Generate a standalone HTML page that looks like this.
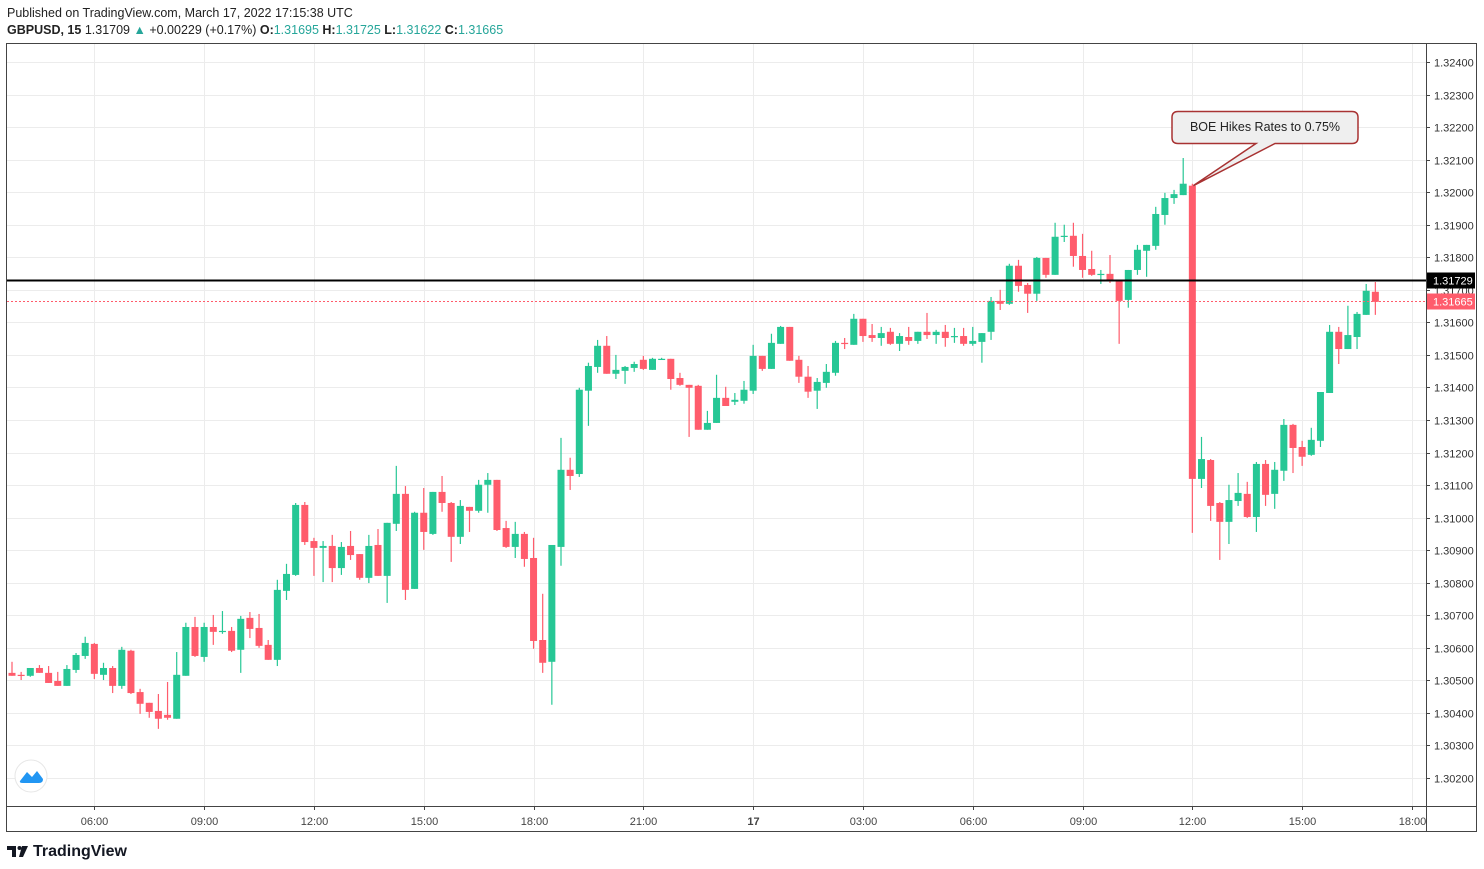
<!DOCTYPE html>
<html><head><meta charset="utf-8"><style>
body{margin:0;background:#fff;width:1484px;height:869px;overflow:hidden;font-family:"Liberation Sans",sans-serif}
svg{position:absolute;left:0;top:0}
</style></head><body>
<svg id="c" width="1484" height="869">
<text x="7" y="17" font-size="12.5" fill="#222">Published on TradingView.com, March 17, 2022 17:15:38 UTC</text>
<text x="7" y="34" font-size="12.5" fill="#222"><tspan font-weight="bold">GBPUSD, 15</tspan> 1.31709 <tspan fill="#26a69a">▲</tspan> +0.00229 (+0.17%) <tspan font-weight="bold">O:</tspan><tspan fill="#26a69a">1.31695</tspan> <tspan font-weight="bold">H:</tspan><tspan fill="#26a69a">1.31725</tspan> <tspan font-weight="bold">L:</tspan><tspan fill="#26a69a">1.31622</tspan> <tspan font-weight="bold">C:</tspan><tspan fill="#26a69a">1.31665</tspan></text>
<g id="grid"></g>
<g id="candles"></g>
<g id="overlay"></g>
<rect x="6.5" y="43.5" width="1470" height="788" fill="none" stroke="#444"/>
<line x1="6.5" y1="806.5" x2="1476" y2="806.5" stroke="#444"/>
<line x1="1426.5" y1="44" x2="1426.5" y2="831" stroke="#444"/>
<g><circle cx="31" cy="776" r="16" fill="#fff" stroke="#e6e6e6"/><path d="M20 781 L27 772 L32 777 L37 771 L43 779 Q43 783 39 783 L23 783 Q19 783 20 781Z" fill="#2196f3"/></g>
<g><path d="M7 846h9v11h-4v-7h-5z" fill="#131722"/><circle cx="19.5" cy="848" r="2" fill="#131722"/><path d="M22 846h6l-5 11h-4z" fill="#131722"/><text x="33" y="856" font-size="16" font-weight="bold" fill="#131722">TradingView</text></g>
</svg>
<script>
const opens=[1.30523,1.30517,1.30514,1.30538,1.30523,1.30498,1.30483,1.30532,1.30575,1.30612,1.30517,1.30538,1.30483,1.30591,1.30464,1.30431,1.30406,1.30394,1.30382,1.30514,1.30664,1.30572,1.30664,1.30649,1.30652,1.30594,1.30692,1.30661,1.30609,1.30563,1.30775,1.30824,1.31039,1.30928,1.30907,1.30913,1.30845,1.30913,1.30888,1.30815,1.30916,1.30821,1.30981,1.31073,1.30781,1.31015,1.30950,1.31079,1.31045,1.30941,1.31033,1.31021,1.31101,1.31116,1.30968,1.30910,1.30950,1.30876,1.30624,1.30557,1.30910,1.31147,1.31134,1.31390,1.31463,1.31528,1.31442,1.31451,1.31460,1.31485,1.31454,1.31485,1.31488,1.31429,1.31408,1.31405,1.31270,1.31291,1.31368,1.31356,1.31359,1.31390,1.31497,1.31457,1.31534,1.31586,1.31485,1.31433,1.31390,1.31414,1.31445,1.31537,1.31531,1.31611,1.31561,1.31552,1.31571,1.31534,1.31555,1.31543,1.31571,1.31561,1.31571,1.31555,1.31558,1.31534,1.31540,1.31571,1.31666,1.31657,1.31774,1.31715,1.31688,1.31798,1.31746,1.31863,1.31866,1.31804,1.31764,1.31746,1.31749,1.31730,1.31669,1.31761,1.31820,1.31835,1.31930,1.31982,1.31991,1.32020,1.31119,1.31177,1.31045,1.30987,1.31051,1.31073,1.31002,1.31165,1.31073,1.31144,1.31285,1.31217,1.31193,1.31236,1.31383,1.31571,1.31518,1.31555,1.31623,1.31694];
const highs=[1.30557,1.30526,1.30538,1.30547,1.30544,1.30526,1.30547,1.30584,1.30634,1.30615,1.30554,1.30544,1.30603,1.30594,1.30474,1.30431,1.30458,1.30495,1.30587,1.30677,1.30695,1.30677,1.30701,1.30713,1.30664,1.30698,1.30710,1.30704,1.30624,1.30809,1.30858,1.31045,1.31048,1.30938,1.30928,1.30947,1.30925,1.30959,1.30888,1.30947,1.30965,1.30984,1.31159,1.31097,1.31018,1.31091,1.31079,1.31128,1.31048,1.31054,1.31033,1.31116,1.31137,1.31116,1.30990,1.30987,1.30956,1.30938,1.30766,1.30916,1.31245,1.31184,1.31399,1.31476,1.31546,1.31558,1.31500,1.31466,1.31479,1.31497,1.31491,1.31491,1.31488,1.31445,1.31408,1.31408,1.31328,1.31439,1.31402,1.31383,1.31420,1.31531,1.31497,1.31565,1.31589,1.31586,1.31497,1.31466,1.31429,1.31472,1.31543,1.31552,1.31626,1.31611,1.31595,1.31586,1.31583,1.31567,1.31586,1.31571,1.31629,1.31577,1.31592,1.31583,1.31583,1.31586,1.31567,1.31678,1.31700,1.31780,1.31792,1.31721,1.31801,1.31798,1.31906,1.31900,1.31906,1.31872,1.31820,1.31761,1.31807,1.31730,1.31761,1.31838,1.31838,1.31955,1.31998,1.32007,1.32105,1.32026,1.31248,1.31180,1.31048,1.31101,1.31137,1.31110,1.31171,1.31177,1.31171,1.31303,1.31288,1.31236,1.31276,1.31386,1.31592,1.31586,1.31651,1.31632,1.31718,1.31724];
const lows=[1.30514,1.30501,1.30511,1.30523,1.30492,1.30483,1.30483,1.30523,1.30566,1.30504,1.30501,1.30461,1.30474,1.30458,1.30397,1.30385,1.30351,1.30379,1.30382,1.30514,1.30572,1.30557,1.30609,1.30643,1.30587,1.30523,1.30630,1.30600,1.30563,1.30544,1.30747,1.30821,1.30916,1.30821,1.30802,1.30802,1.30824,1.30870,1.30809,1.30799,1.30821,1.30738,1.30959,1.30747,1.30781,1.30901,1.30947,1.31018,1.30864,1.30919,1.30956,1.31015,1.31015,1.30959,1.30907,1.30876,1.30849,1.30597,1.30523,1.30425,1.30852,1.31085,1.31125,1.31282,1.31445,1.31442,1.31426,1.31411,1.31448,1.31454,1.31454,1.31485,1.31393,1.31405,1.31248,1.31270,1.31270,1.31291,1.31343,1.31346,1.31350,1.31380,1.31451,1.31457,1.31534,1.31482,1.31414,1.31368,1.31334,1.31399,1.31436,1.31518,1.31531,1.31540,1.31540,1.31528,1.31531,1.31512,1.31531,1.31534,1.31549,1.31534,1.31525,1.31537,1.31528,1.31528,1.31476,1.31546,1.31638,1.31654,1.31694,1.31629,1.31666,1.31737,1.31746,1.31847,1.31771,1.31737,1.31743,1.31718,1.31721,1.31534,1.31645,1.31746,1.31740,1.31823,1.31900,1.31964,1.31991,1.30953,1.31091,1.30990,1.30870,1.30919,1.31036,1.30999,1.30956,1.31036,1.31027,1.31113,1.31137,1.31159,1.31190,1.31217,1.31383,1.31472,1.31518,1.31518,1.31623,1.31623];
const closes=[1.30514,1.30514,1.30538,1.30523,1.30492,1.30483,1.30535,1.30578,1.30615,1.30520,1.30538,1.30483,1.30594,1.30461,1.30428,1.30403,1.30382,1.30385,1.30517,1.30664,1.30575,1.30664,1.30649,1.30652,1.30591,1.30689,1.30658,1.30606,1.30563,1.30778,1.30827,1.31039,1.30925,1.30907,1.30913,1.30845,1.30910,1.30885,1.30815,1.30913,1.30821,1.30984,1.31073,1.30778,1.31015,1.30956,1.31079,1.31045,1.30941,1.31036,1.31021,1.31101,1.31116,1.30962,1.30910,1.30950,1.30873,1.30621,1.30554,1.30916,1.31147,1.31128,1.31393,1.31466,1.31528,1.31442,1.31454,1.31463,1.31472,1.31457,1.31488,1.31488,1.31426,1.31408,1.31399,1.31270,1.31291,1.31368,1.31343,1.31362,1.31393,1.31497,1.31457,1.31537,1.31586,1.31482,1.31433,1.31387,1.31417,1.31448,1.31537,1.31534,1.31611,1.31558,1.31552,1.31567,1.31534,1.31558,1.31543,1.31571,1.31561,1.31571,1.31552,1.31558,1.31534,1.31543,1.31567,1.31666,1.31657,1.31774,1.31712,1.31688,1.31798,1.31746,1.31863,1.31866,1.31804,1.31761,1.31746,1.31749,1.31727,1.31666,1.31761,1.31823,1.31838,1.31933,1.31982,1.31994,1.32026,1.31119,1.31180,1.31036,1.30987,1.31054,1.31076,1.31002,1.31165,1.31070,1.31147,1.31285,1.31214,1.31187,1.31239,1.31386,1.31571,1.31518,1.31561,1.31626,1.31697,1.31663];
const priceTicks=[1.324,1.323,1.322,1.321,1.320,1.319,1.318,1.317,1.316,1.315,1.314,1.313,1.312,1.311,1.310,1.309,1.308,1.307,1.306,1.305,1.304,1.303,1.302];
const timeLabels=["06:00","09:00","12:00","15:00","18:00","21:00","17","03:00","06:00","09:00","12:00","15:00","18:00"];
const timeLabelIdx=[9,21,33,45,57,69,81,93,105,117,129,141,153];
const lineLevel=1.31729, lastPrice=1.31665, annotIdx=129;

const NS="http://www.w3.org/2000/svg";
const yS=p=>62+(1.324-p)*32545;
const xS=i=>12+9.15*i;
function mk(tag,attrs,parent){const e=document.createElementNS(NS,tag);for(const k in attrs)e.setAttribute(k,attrs[k]);parent.appendChild(e);return e;}
const grid=document.getElementById('grid'),cg=document.getElementById('candles'),ov=document.getElementById('overlay');
priceTicks.forEach(p=>{const y=Math.round(yS(p))+0.5;
 const l=mk('line',{x1:7,x2:1426,y1:y,y2:y,stroke:'#ececec'},grid);
 
 
 const t=mk('text',{x:1434,y:y+4,'font-size':11,fill:'#333'},grid);t.textContent=p.toFixed(5);
 
 
 const tk=mk('line',{x1:1426,x2:1430,y1:y,y2:y,stroke:'#444'},grid);
 
 
});
timeLabels.forEach((s,k)=>{const x=Math.round(xS(timeLabelIdx[k]))+0.5;
 const l=mk('line',{x1:x,x2:x,y1:44,y2:806,stroke:'#ececec'},grid);
 
 
 const tk=mk('line',{x1:x,x2:x,y1:806,y2:810,stroke:'#444'},grid);
 
 
 const t=mk('text',{x:x,y:825,'font-size':11,fill:'#444','text-anchor':'middle','font-weight':s==='17'?'bold':'normal'},grid);t.textContent=s;
 
 
});
opens.forEach((o,i)=>{const c=closes[i],up=c>=o,col=up?'#26c795':'#ff5c6c',x=xS(i);
 const w=mk('line',{x1:x,x2:x,y1:yS(highs[i]),y2:yS(lows[i]),stroke:col,'stroke-width':1.2},cg);
 
 
 const top=yS(Math.max(o,c)),bot=yS(Math.min(o,c));
 const r=mk('rect',{x:x-3.5,y:top,width:7,height:Math.max(1.2,bot-top),fill:col},cg);
 
 
});
const ly=Math.round(yS(lineLevel))+0.5;
const hl=mk('line',{x1:7,x2:1426,y1:ly,y2:ly,stroke:'#000','stroke-width':2},ov);


const lb=mk('rect',{x:1427,y:ly-8,width:48,height:16,fill:'#000'},ov);


const lt=mk('text',{x:1433,y:ly+4,'font-size':11,fill:'#fff'},ov);lt.textContent=lineLevel.toFixed(5);


const py=Math.round(yS(lastPrice))+0.5;
const pl=mk('line',{x1:7,x2:1426,y1:py,y2:py,stroke:'#ff5c6c','stroke-dasharray':'2 2'},ov);


const pb=mk('rect',{x:1427,y:py-8,width:48,height:16,fill:'#ff5c6c'},ov);


const pt=mk('text',{x:1433,y:py+4,'font-size':11,fill:'#fff'},ov);pt.textContent=lastPrice.toFixed(5);


const ax=xS(annotIdx)+1,ay=yS(opens[annotIdx]);
const cb=mk('path',{d:`M1178 111.5 H1352 Q1358 111.5 1358 117.5 V137.5 Q1358 143.5 1352 143.5 H1275 L${ax} ${ay} L1256 143.5 H1178 Q1172 143.5 1172 137.5 V117.5 Q1172 111.5 1178 111.5Z`,fill:'#efefef',stroke:'#a83232','stroke-width':1.5},ov);


const ct=mk('text',{x:1265,y:131,'font-size':12.5,fill:'#222','text-anchor':'middle'},ov);ct.textContent='BOE Hikes Rates to 0.75%';


</script>
</body></html>
